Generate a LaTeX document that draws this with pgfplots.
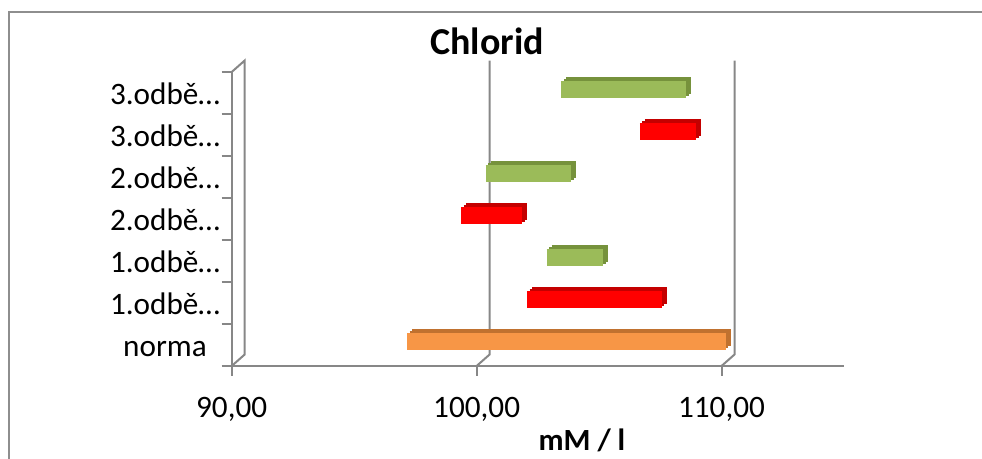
\documentclass[border=0pt]{standalone}
\usepackage{pgfplots}
\usepackage{pgfplotstable}
\pgfplotsset{compat=1.18}
\usepackage{fontspec}
\setmainfont{Carlito}
\definecolor{axgray}{HTML}{878787}
\definecolor{bordergray}{HTML}{8E8E8E}
\definecolor{orF}{HTML}{F79646}
\definecolor{orD}{HTML}{C0712F}
\definecolor{reF}{HTML}{FF0000}
\definecolor{reD}{HTML}{C40000}
\definecolor{grF}{HTML}{9BBB59}
\definecolor{grD}{HTML}{76923C}

\pgfplotstableread{
y s e
0 97.0 110.0
}\tabOrange
\pgfplotstableread{
y s e
1 101.9 107.4
3 99.2 101.7
5 106.5 108.8
}\tabRed
\pgfplotstableread{
y s e
2 102.7 105.0
4 100.2 103.7
6 103.3 108.4
}\tabGreen

\pgfplotsset{
  floatbar/.style n args={3}{draw=none, mark=none, forget plot, xshift=#2, yshift=#3,
    error bars/.cd, x dir=plus, x explicit, error mark=none,
    error bar style={line width=8.5pt, draw=#1, line cap=butt}},
}

\begin{document}
\begin{tikzpicture}
\path[use as bounding box] (0,0) rectangle (491pt,229.5pt);
\draw[bordergray, line width=1pt] (4.5pt,-20pt) -- (4.5pt,223.5pt) -- (520pt,223.5pt);
\begin{axis}[
  at={(115.85pt,46.5pt)}, anchor=south west,
  scale only axis, width=306.15pt, height=147pt,
  clip=false,
  xmin=90, xmax=115, ymin=-0.5, ymax=6.5,
  axis x line*=bottom, axis y line*=left,
  axis line style={draw=axgray, line width=1pt},
  tick align=outside, major tick length=5pt,
  tick style={draw=axgray, line width=1pt},
  xtick={90,100,110},
  /pgf/number format/.cd, fixed, fixed zerofill, precision=2, use comma, assume math mode=true,
  /pgfplots/.cd,
  ytick={-0.5,0.5,...,6.5}, yticklabels={,,,,,,,},
  extra y ticks={0,1,2,3,4,5,6},
  extra y tick labels={norma,1.odbě…,1.odbě…,2.odbě…,2.odbě…,3.odbě…,3.odbě…},
  extra y tick style={major tick length=0pt, tick style={draw=none},
    yticklabel style={anchor=base, xshift=-33.35pt, yshift=-6pt}},
  ticklabel style={font=\fontsize{15.6}{18}\selectfont},
  xticklabel style={anchor=base, yshift=-21pt},
  title={Chlorid},
  title style={font=\fontsize{19}{22}\selectfont\bfseries, at={(axis description cs:0.417,1)}, anchor=base, yshift=3pt},
  xlabel={mM / l},
  xlabel style={font=\fontsize{15.4}{18}\selectfont\bfseries, at={(axis description cs:0.572,0)}, anchor=base, yshift=-42.5pt},
]
% side wall and back wall lines
\draw[axgray, line width=1pt] (axis cs:90,-0.5) -- ++(6.5pt,5.75pt) -- ([shift={(6.5pt,5.75pt)}]axis cs:90,6.5) -- (axis cs:90,6.5);
\draw[axgray, line width=1pt] (axis cs:100,-0.5) -- ++(6.5pt,5.75pt) -- ([shift={(6.5pt,5.75pt)}]axis cs:100,6.5);
\draw[axgray, line width=1pt] (axis cs:110,-0.5) -- ++(6.5pt,5.75pt) -- ([shift={(6.5pt,5.75pt)}]axis cs:110,6.5);
% depth faces
\addplot[floatbar={orD}{4.5pt}{3.75pt}] table[x=s, y=y, x error expr=\thisrow{e}-\thisrow{s}] {\tabOrange};
\addplot[floatbar={reD}{4.5pt}{3.75pt}] table[x=s, y=y, x error expr=\thisrow{e}-\thisrow{s}] {\tabRed};
\addplot[floatbar={grD}{4.5pt}{3.75pt}] table[x=s, y=y, x error expr=\thisrow{e}-\thisrow{s}] {\tabGreen};
\addplot[floatbar={orD}{3.25pt}{2.75pt}] table[x=s, y=y, x error expr=\thisrow{e}-\thisrow{s}] {\tabOrange};
\addplot[floatbar={reD}{3.25pt}{2.75pt}] table[x=s, y=y, x error expr=\thisrow{e}-\thisrow{s}] {\tabRed};
\addplot[floatbar={grD}{3.25pt}{2.75pt}] table[x=s, y=y, x error expr=\thisrow{e}-\thisrow{s}] {\tabGreen};
% front faces
\addplot[floatbar={orF}{2pt}{1.75pt}] table[x=s, y=y, x error expr=\thisrow{e}-\thisrow{s}] {\tabOrange};
\addplot[floatbar={reF}{2pt}{1.75pt}] table[x=s, y=y, x error expr=\thisrow{e}-\thisrow{s}] {\tabRed};
\addplot[floatbar={grF}{2pt}{1.75pt}] table[x=s, y=y, x error expr=\thisrow{e}-\thisrow{s}] {\tabGreen};
\end{axis}
\end{tikzpicture}
\end{document}
